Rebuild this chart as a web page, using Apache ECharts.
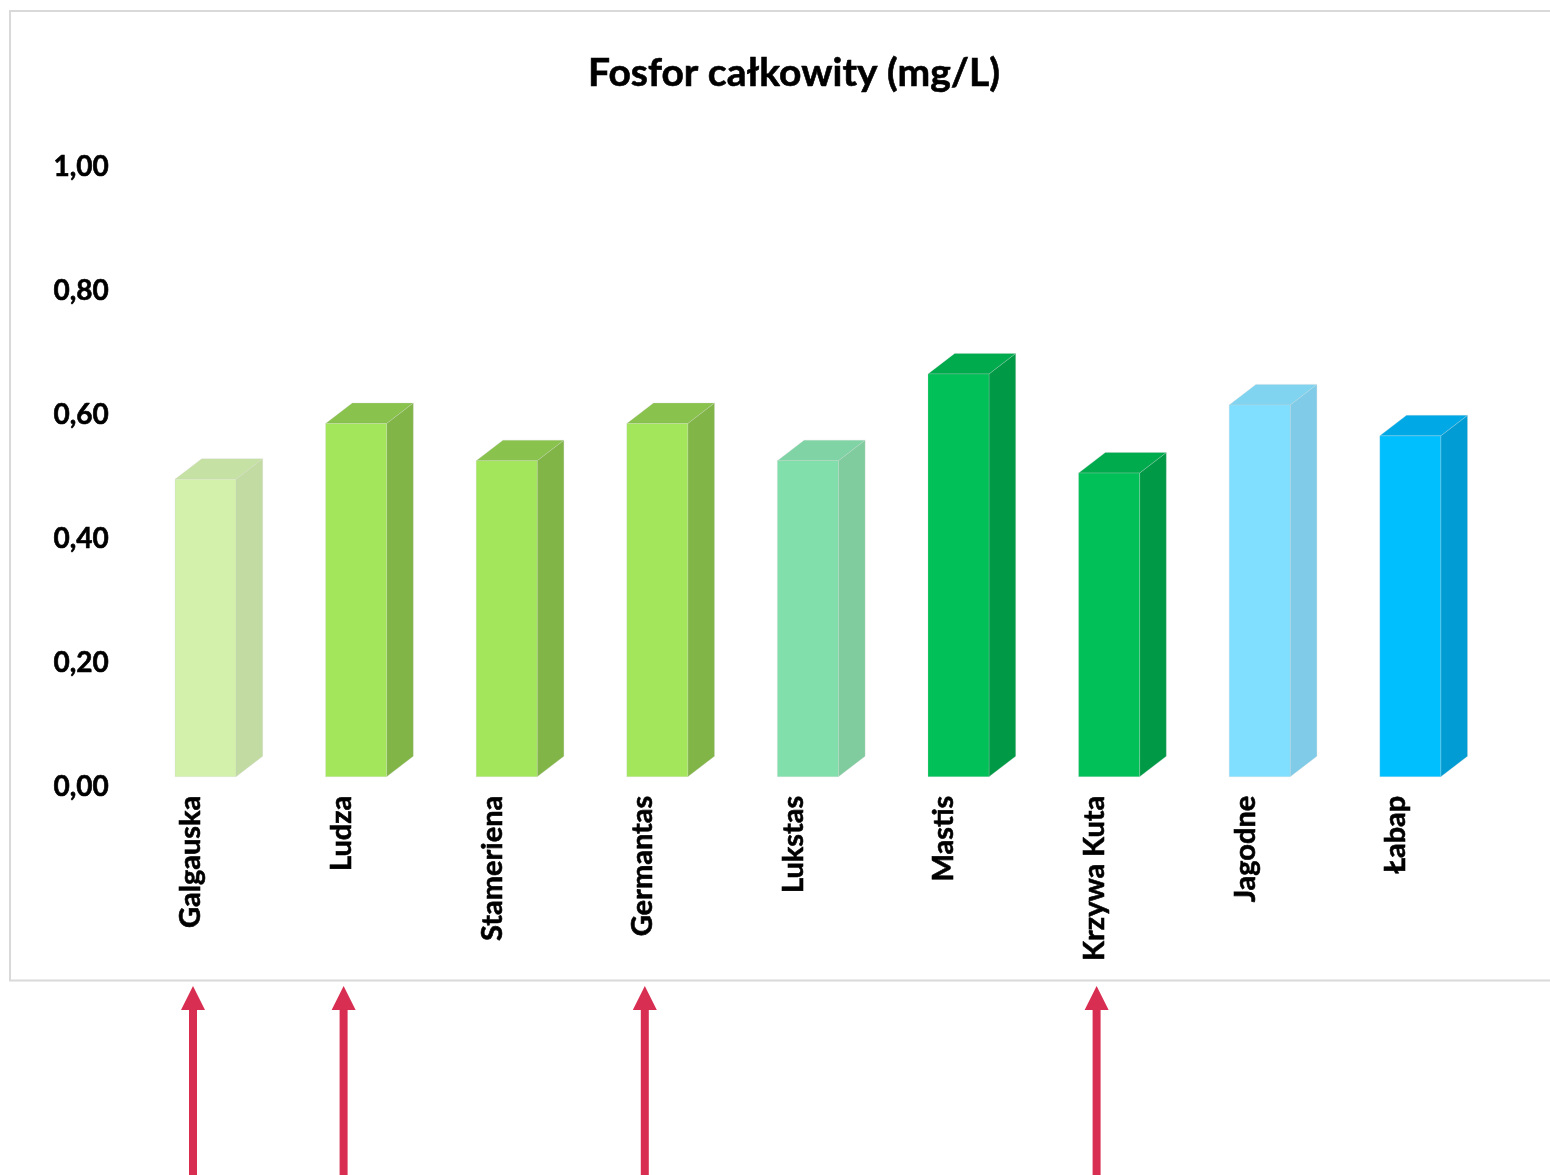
<!DOCTYPE html>
<html>
<head>
<meta charset="utf-8">
<title>Fosfor całkowity (mg/L)</title>
<script src="https://cdn.jsdelivr.net/npm/echarts@6/dist/echarts.min.js"></script>
<style>
  html, body { margin: 0; padding: 0; background: #ffffff; }
  #chart { width: 1550px; height: 1175px; }
</style>
</head>
<body>
<div id="chart"></div>
<script>
// Lakes and their total phosphorus concentration (mg/L)
const lakes = ['Galgauska', 'Ludza', 'Stameriena', 'Germantas', 'Lukstas', 'Mastis', 'Krzywa Kuta', 'Jagodne', 'Łabap'];
const phosphorus = [0.48, 0.57, 0.51, 0.57, 0.51, 0.65, 0.49, 0.60, 0.55];
const yTicks = [0, 0.2, 0.4, 0.6, 0.8, 1.0];
// Lakes marked with an arrow under the chart
const markedLakes = ['Galgauska', 'Ludza', 'Germantas', 'Krzywa Kuta'];

// Face colours for each column: [front, side, top]
const palette = [
  ['#D3F1AB', '#C2DBA2', '#C6E1A4'],
  ['#A3E65C', '#82B548', '#8AC24E'],
  ['#A3E65C', '#82B548', '#8AC24E'],
  ['#A3E65C', '#82B548', '#8AC24E'],
  ['#80DFAB', '#80CC9F', '#80D3A5'],
  ['#00C057', '#009A46', '#00AB4E'],
  ['#00C057', '#009A46', '#00AB4E'],
  ['#80DFFF', '#80CCE8', '#80D4F0'],
  ['#00BFFF', '#009CD3', '#00A9E6']
];

// Pseudo-3D column geometry (pixels, relative to the category centre)
const FRONT_LEFT = -16;
const FRONT_RIGHT = 45;
const DEPTH_X = 26.7;
const DEPTH_Y = 20.5;
const LIFT = 10;

const FONT = 'Lato, "Open Sans", sans-serif';
// a thin outline in the text colour gives the heavier bold look
const heavy = { textBorderColor: '#000000', textBorderWidth: 0.6 };

const chart = echarts.init(document.getElementById('chart'), null, { renderer: 'canvas' });

function renderColumn(params, api) {
  const i = api.value(0);
  const v = api.value(1);
  const top = api.coord([i, v]);
  const base = api.coord([i, 0]);
  const cx = top[0];
  const x0 = cx + FRONT_LEFT;
  const x1 = cx + FRONT_RIGHT;
  const yT = top[1] - LIFT;
  const yB = base[1] - LIFT;
  const c = palette[params.dataIndex];
  const edge = 'rgba(210,210,210,0.5)';
  return {
    type: 'group',
    children: [
      {
        type: 'polygon',
        shape: { points: [[x1, yT], [x1 + DEPTH_X, yT - DEPTH_Y], [x1 + DEPTH_X, yB - DEPTH_Y], [x1, yB]] },
        style: { fill: c[1], stroke: edge, lineWidth: 0.5 }
      },
      {
        type: 'polygon',
        shape: { points: [[x0, yT], [x0 + DEPTH_X, yT - DEPTH_Y], [x1 + DEPTH_X, yT - DEPTH_Y], [x1, yT]] },
        style: { fill: c[2], stroke: edge, lineWidth: 0.5 }
      },
      {
        type: 'rect',
        shape: { x: x0, y: yT, width: x1 - x0, height: yB - yT },
        style: { fill: c[0], stroke: edge, lineWidth: 0.5 }
      }
    ]
  };
}

const option = {
  backgroundColor: '#ffffff',
  animation: false,
  title: {
    text: 'Fosfor całkowity (mg/L)',
    left: 789,
    top: 49,
    textAlign: 'center',
    textStyle: Object.assign({ fontFamily: FONT, fontWeight: 'bold', fontSize: 39, color: '#000000' }, heavy)
  },
  grid: {
    left: 115.7,
    right: 78.9,
    top: 167,
    bottom: 388.3,
    containLabel: false
  },
  xAxis: {
    type: 'category',
    data: lakes,
    boundaryGap: true,
    axisLine: { show: false },
    axisTick: { show: false },
    splitLine: { show: false },
    axisLabel: Object.assign({
      interval: 0,
      rotate: 90,
      margin: 9,
      fontFamily: FONT,
      fontWeight: 'bold',
      fontSize: 29,
      color: '#000000'
    }, heavy)
  },
  yAxis: {
    type: 'value',
    min: yTicks[0],
    max: yTicks[yTicks.length - 1],
    interval: 0.2,
    axisLine: { show: false },
    axisTick: { show: false },
    splitLine: { show: false },
    axisLabel: Object.assign({
      margin: 7,
      fontFamily: FONT,
      fontWeight: 'bold',
      fontSize: 28,
      color: '#000000',
      formatter: (val) => val.toFixed(2).replace('.', ',')
    }, heavy)
  },
  series: [{
    type: 'custom',
    renderItem: renderColumn,
    clip: false,
    encode: { x: 0, y: 1 },
    data: phosphorus.map((v, i) => [i, v])
  }]
};

chart.setOption(option);

// Chart frame and the arrows pointing at the marked lakes
const arrowColor = '#D72E52';
const graphics = [{
  type: 'rect',
  silent: true,
  z: -10,
  shape: { x: 10, y: 11, width: 1600, height: 969.5 },
  style: { fill: 'none', stroke: '#D9D9D9', lineWidth: 2 }
}];
markedLakes.forEach((name) => {
  const x = chart.convertToPixel({ xAxisIndex: 0 }, name) + 2;
  const tipY = 986;
  graphics.push({
    type: 'group',
    silent: true,
    children: [
      { type: 'rect', shape: { x: x - 4, y: tipY + 22, width: 8, height: 1175 - tipY - 22 }, style: { fill: arrowColor } },
      { type: 'polygon', shape: { points: [[x, tipY], [x + 12, tipY + 24], [x - 12, tipY + 24]] }, style: { fill: arrowColor } }
    ]
  });
});
chart.setOption({ graphic: graphics });
</script>
</body>
</html>
